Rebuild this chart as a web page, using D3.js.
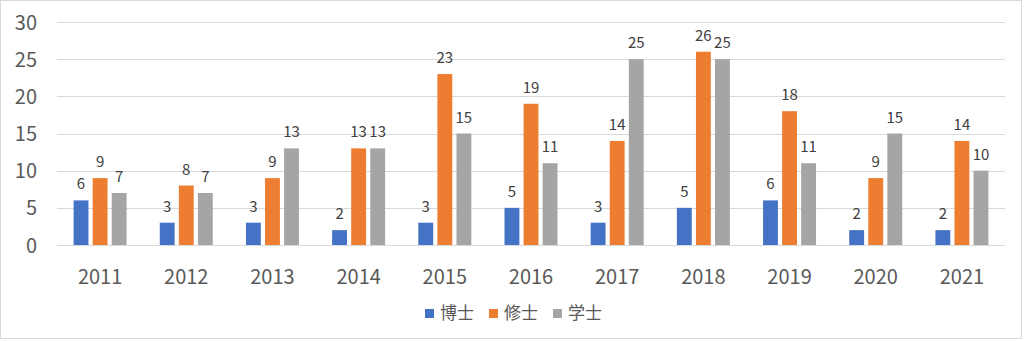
<!DOCTYPE html>
<html>
<head>
<meta charset="utf-8">
<script src="https://cdn.jsdelivr.net/npm/d3@7"></script>
<style>
  html, body { margin: 0; padding: 0; background: #fff; }
  svg { display: block; }
</style>
</head>
<body>
<svg id="chart" width="1024" height="341"></svg>
<script>
// Graduates per year by degree
const years = ["2011","2012","2013","2014","2015","2016","2017","2018","2019","2020","2021"];
const seriesNames = ["博士", "修士", "学士"];
const doctor   = [6, 3, 3, 2, 3, 5, 3, 5, 6, 2, 2];
const master   = [9, 8, 9, 13, 23, 19, 14, 26, 18, 9, 14];
const bachelor = [7, 7, 13, 13, 15, 11, 25, 25, 11, 15, 10];
const yTicks = [0, 5, 10, 15, 20, 25, 30];
const colors = ["#4472C4", "#ED7D31", "#A5A5A5"];

const series = [doctor, master, bachelor];
const font = "'Noto Sans CJK JP', 'Noto Sans', Calibri, sans-serif";

const svg = d3.select("#chart");

// outer frame
svg.append("rect")
  .attr("x", 0.5).attr("y", 0.5)
  .attr("width", 1021).attr("height", 338)
  .attr("fill", "#fff").attr("stroke", "#D9D9D9");

const plot = { left: 57, right: 1005, top: 22, bottom: 245 };

const x = d3.scaleBand().domain(years).range([plot.left, plot.right]).paddingInner(0).paddingOuter(0);
const y = d3.scaleLinear().domain([0, 30]).range([plot.bottom, plot.top]);
const xs = d3.scaleBand().domain(d3.range(series.length)).range([0, 53]).paddingInner(0.22);
const groupOffset = (x.bandwidth() - 53) / 2;

// gridlines
svg.append("g").selectAll("line").data(yTicks).join("line")
  .attr("x1", plot.left).attr("x2", plot.right)
  .attr("y1", d => Math.round(y(d)) + 0.5).attr("y2", d => Math.round(y(d)) + 0.5)
  .attr("stroke", "#D9D9D9").attr("stroke-width", 1);

// y axis labels
const yAxis = d3.axisLeft(y).tickValues(yTicks).tickSize(0).tickPadding(0);
const gy = svg.append("g").attr("transform", `translate(37,0)`).call(yAxis);
gy.select(".domain").remove();
gy.selectAll("text")
  .attr("font-family", font).attr("font-size", 20).attr("fill", "#595959")
  .attr("dy", "0.35em");

// x axis labels
const xAxis = d3.axisBottom(x).tickSize(0).tickPadding(0);
const gx = svg.append("g").attr("transform", `translate(0,284)`).call(xAxis);
gx.select(".domain").remove();
gx.selectAll("text")
  .attr("font-family", font).attr("font-size", 20).attr("fill", "#595959")
  .attr("y", 0).attr("dy", "0");

// bars + value labels
series.forEach((vals, si) => {
  const g = svg.append("g");
  g.selectAll("rect").data(vals).join("rect")
    .attr("x", (d, i) => x(years[i]) + groupOffset + xs(si))
    .attr("width", xs.bandwidth())
    .attr("y", d => y(d))
    .attr("height", d => y(0) - y(d))
    .attr("fill", colors[si]);
  g.selectAll("text").data(vals).join("text")
    .attr("x", (d, i) => x(years[i]) + groupOffset + xs(si) + xs.bandwidth() / 2)
    .attr("y", d => y(d) - 11)
    .attr("text-anchor", "middle")
    .attr("font-family", font).attr("font-size", 15).attr("fill", "#404040")
    .text(d => d);
});

// legend
const legendX = [425, 489, 553];
const lg = svg.append("g");
seriesNames.forEach((name, i) => {
  lg.append("rect")
    .attr("x", legendX[i]).attr("y", 309)
    .attr("width", 9).attr("height", 9)
    .attr("fill", colors[i]);
  lg.append("text")
    .attr("x", legendX[i] + 15).attr("y", 313)
    .attr("dy", "0.35em")
    .attr("font-family", font).attr("font-size", 17).attr("fill", "#595959")
    .text(name);
});
</script>
</body>
</html>
